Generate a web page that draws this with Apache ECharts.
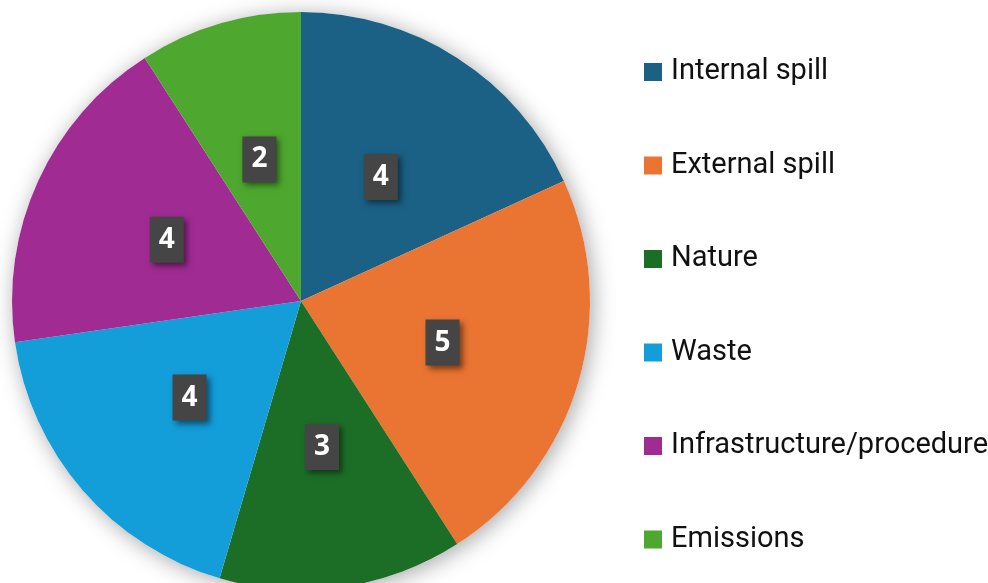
<!DOCTYPE html>
<html><head><meta charset="utf-8">
<script src="https://cdn.jsdelivr.net/npm/echarts@6/dist/echarts.min.js"></script>
<style>html,body{margin:0;padding:0;background:#fff}#c{width:988px;height:583px}</style>
</head><body><div id="c"></div>
<script>
const categories = ['Internal spill','External spill','Nature','Waste','Infrastructure/procedure','Emissions'];
const values = [4,5,3,4,4,2];
const colors = ['#1a6185','#ea7432','#1c6e27','#139dd9','#a02b93','#4ea72e'];

const chart = echarts.init(document.getElementById('c'), null, {renderer:'canvas'});
chart.setOption({
  animation:false,
  backgroundColor:'#fff',
  color: colors,
  legend:{
    orient:'vertical', left:644, top:55, padding:0,
    itemWidth:18, itemHeight:18, itemGap:59.5,
    icon:'rect',
    textStyle:{fontFamily:'Roboto', fontSize:29, color:'#111', lineHeight:34, padding:[0,0,0,4]},
    data: categories
  },
  series:[
    {
      type:'pie', center:[301,301], radius:289, silent:true, z:1,
      label:{show:false}, labelLine:{show:false},
      itemStyle:{color:'#fff', shadowBlur:22, shadowColor:'rgba(0,0,0,0.35)', shadowOffsetX:3, shadowOffsetY:3},
      data:[{value:1, name:'_bg'}]
    },
    {
      type:'pie', center:[301,301], radius:289, startAngle:90, clockwise:true, z:2,
      itemStyle:{borderWidth:0},
      label:{
        show:true, position:'inside', formatter:'{c}',
        color:'#fff', fontFamily:'Open Sans', fontWeight:'bold', fontSize:28, lineHeight:28,
        backgroundColor:'#454545', padding:[10,9,8,9],
        shadowBlur:6, shadowColor:'rgba(0,0,0,0.5)', shadowOffsetX:3, shadowOffsetY:3
      },
      labelLine:{show:false},
      emphasis:{disabled:true},
      data: categories.map((n,i)=>({name:n, value:values[i]}))
    }
  ]
});
</script></body></html>
